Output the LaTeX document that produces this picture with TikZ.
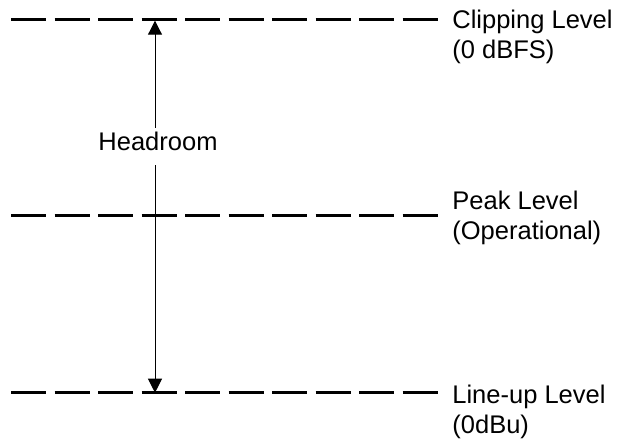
\documentclass[tikz,border=0pt]{standalone}
\usepackage{fontspec}
\setmainfont{Liberation Sans}
\usetikzlibrary{arrows.meta}

\begin{document}
\begin{tikzpicture}[x=0.5pt,y=-0.5pt,
  level/.style={line width=1.75pt,dash pattern=on 17.5pt off 4.25pt},
  levellabel/.style={anchor=base west,align=left,inner sep=0pt,
    font=\fontsize{12.75pt}{15pt}\selectfont},
  span/.style={line width=0.5pt,-{Triangle[length=7pt,width=7pt]}}]
  \useasboundingbox (0,0) rectangle (632,439);
  % Level lines
  \draw[level] (11,19.3) -- (437.5,19.3);
  \draw[level] (11,215.7) -- (437.5,215.7);
  \draw[level] (11,392.5) -- (437.5,392.5);
  % Labels (base = last line)
  \node[levellabel] (clip) at (452,58) {Clipping Level\\(0 dBFS)};
  \node[levellabel] (peak) at (452,239) {Peak Level\\(Operational)};
  \node[levellabel] (lineup) at (452,433) {Line-up Level\\(0dBu)};
  % Headroom span
  \coordinate (cliptip) at (155,20.7);
  \coordinate (lineuptip) at (155,392.7);
  \node[anchor=base,inner xsep=0pt,inner ysep=1.75pt,text depth=5.75pt,
    font=\fontsize{12.75pt}{15pt}\selectfont] (headroom) at (158,150) {Headroom};
  \draw[span] (headroom.north -| cliptip) -- (cliptip);
  \draw[span] (headroom.south -| lineuptip) -- (lineuptip);
\end{tikzpicture}
\end{document}
